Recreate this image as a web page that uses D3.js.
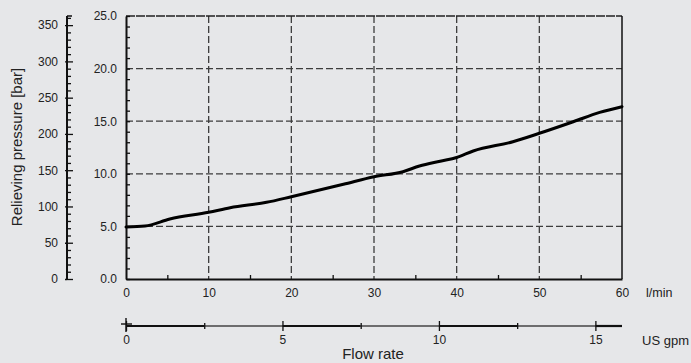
<!DOCTYPE html>
<html>
<head>
<meta charset="utf-8">
<script src="https://cdn.jsdelivr.net/npm/d3@7"></script>
<style>
  body { margin: 0; background: #e6e7e9; }
  svg { display: block; font-family: "Liberation Sans", Arial, sans-serif; }
  .lbl { fill: #222; }
</style>
</head>
<body>
<svg id="chart"></svg>
<script>
// flow rate (l/min) vs relieving pressure (inner axis units)
const flowLpm = [0, 2.3, 5.3, 10, 12.6, 17, 20, 26.3, 30, 33.5, 35.5, 38, 40, 42, 46.8, 50, 54.1, 57.3, 60];
const pressure = [4.95, 5.04, 5.70, 6.34, 6.78, 7.29, 7.82, 9.0, 9.72, 10.2, 10.74, 11.2, 11.55, 12.17, 13.05, 13.85, 14.95, 15.84, 16.38];

const innerTicks = [0, 5, 10, 15, 20, 25];
const barTicks = [0, 50, 100, 150, 200, 250, 300, 350];
const lpmTicks = [0, 10, 20, 30, 40, 50, 60];
const gpmTicks = [0, 5, 10, 15];

const width = 691;
const height = 363;
const plotL = 126, plotR = 622, plotT = 16, plotB = 279;

const svg = d3.select('#chart').attr('width', width).attr('height', height);
svg.append('rect').attr('width', width).attr('height', height).attr('fill', '#e6e7e9');

const x = d3.scaleLinear().domain([0, 60]).range([plotL, plotR]);
const y = d3.scaleLinear().domain([0, 25]).range([plotB, plotT]);
const yBar = d3.scaleLinear().domain([0, 25 * 14.5038]).range([plotB, plotT]);
const xGpm = d3.scaleLinear().domain([0, 60 / 3.78541]).range([plotL, plotR]);

// dashed grid
const grid = svg.append('g').attr('stroke', '#3c3c3c').attr('stroke-width', 1.3).attr('stroke-dasharray', '7,3');
grid.selectAll('.hg').data(innerTicks.filter(d => d > 0 && d < 25)).enter()
  .append('line').attr('x1', plotL).attr('x2', plotR)
  .attr('y1', d => y(d)).attr('y2', d => y(d));
grid.selectAll('.vg').data(lpmTicks.filter(d => d > 0 && d < 60)).enter()
  .append('line').attr('y1', plotT).attr('y2', plotB)
  .attr('x1', d => x(d)).attr('x2', d => x(d));

// frame
svg.append('line').attr('x1', plotL).attr('x2', plotR).attr('y1', y(25)).attr('y2', y(25))
  .attr('stroke', '#222').attr('stroke-width', 1.5).attr('stroke-dasharray', '9,1');
svg.append('line').attr('x1', x(60)).attr('x2', x(60)).attr('y1', plotT).attr('y2', plotB)
  .attr('stroke', '#111').attr('stroke-width', 1.5);

// inner left axis
const yAxis = d3.axisLeft(y).tickValues(innerTicks).tickFormat(d3.format('.1f')).tickSize(0).tickPadding(9);
const gy = svg.append('g').attr('transform', `translate(${plotL},0)`).call(yAxis);
gy.select('.domain').attr('stroke', '#111').attr('stroke-width', 2);
gy.selectAll('text').attr('class', 'lbl').style('font-size', '12px');
const yMinor = d3.axisRight(y).tickValues(d3.range(0, 26, 1)).tickSize(4).tickFormat('');
const gym = svg.append('g').attr('transform', `translate(${plotL},0)`).call(yMinor);
gym.select('.domain').remove();
gym.selectAll('line').attr('stroke', '#111').attr('stroke-width', 1.3);

// bar axis
const barAxis = d3.axisLeft(yBar).tickValues(barTicks).tickSize(2).tickPadding(7);
const gb = svg.append('g').attr('transform', 'translate(67,0)').call(barAxis);
gb.select('.domain').remove();
gb.selectAll('line').attr('stroke', '#111').attr('stroke-width', 1.3);
gb.selectAll('text').attr('class', 'lbl').style('font-size', '12px');
gb.append('line').attr('y1', plotT).attr('y2', plotB).attr('stroke', '#111').attr('stroke-width', 2);
const barMinor = d3.axisRight(yBar).tickValues(d3.range(0, 361, 10)).tickSize(4).tickFormat('');
const gbm = svg.append('g').attr('transform', 'translate(67,0)').call(barMinor);
gbm.select('.domain').remove();
gbm.selectAll('line').attr('stroke', '#111').attr('stroke-width', 1.3)
  .attr('x2', d => d % 50 === 0 ? 6 : 4);
gb.append('line').attr('x1', 0).attr('x2', 5).attr('y1', plotT).attr('y2', plotT).attr('stroke', '#111').attr('stroke-width', 1.5);

svg.append('text').attr('class', 'lbl')
  .attr('transform', 'translate(22,147) rotate(-90)')
  .attr('text-anchor', 'middle').style('font-size', '15px')
  .text('Relieving pressure [bar]');

// bottom l/min axis
const xAxis = d3.axisBottom(x).tickValues(lpmTicks).tickSize(0).tickPadding(9);
const gx = svg.append('g').attr('transform', `translate(0,${plotB})`).call(xAxis);
gx.select('.domain').attr('stroke', '#111').attr('stroke-width', 2);
gx.selectAll('text').attr('class', 'lbl').style('font-size', '12px');
const xMinor = d3.axisTop(x).tickValues(d3.range(5, 60, 10)).tickSize(4).tickFormat('');
const gxm = svg.append('g').attr('transform', `translate(0,${plotB})`).call(xMinor);
gxm.select('.domain').remove();
gxm.selectAll('line').attr('stroke', '#111').attr('stroke-width', 1.3);
svg.append('text').attr('class', 'lbl').attr('x', 646).attr('y', 297).style('font-size', '12.5px').text('l/min');

// US gpm axis
const gpmY = 326;
const gpmMax = 60 / 3.78541;
const segs = d3.range(0, gpmMax, 2.5).map(s => [s, Math.min(s + 2.5, gpmMax)]);
svg.append('g').selectAll('line').data(segs).enter().append('line')
  .attr('x1', d => xGpm(d[0])).attr('x2', d => xGpm(d[1]))
  .attr('y1', gpmY).attr('y2', gpmY)
  .attr('stroke', (d, i) => i % 2 === 0 ? '#111' : '#444')
  .attr('stroke-width', (d, i) => i % 2 === 0 ? 2.2 : 1.3);
const gpmAxis = d3.axisBottom(xGpm).tickValues(gpmTicks).tickSize(5).tickPadding(4);
const gg = svg.append('g').attr('transform', `translate(0,${gpmY})`).call(gpmAxis);
gg.select('.domain').remove();
gg.selectAll('line').attr('stroke', '#111').attr('stroke-width', 1.3).attr('y1', -5);
gg.selectAll('text').attr('class', 'lbl').style('font-size', '12px');
const gpmMinor = d3.axisBottom(xGpm).tickValues([2.5, 7.5, 12.5]).tickSize(3).tickFormat('');
const ggm = svg.append('g').attr('transform', `translate(0,${gpmY})`).call(gpmMinor);
ggm.select('.domain').remove();
ggm.selectAll('line').attr('stroke', '#111').attr('stroke-width', 1.3).attr('y1', -3);
svg.append('line').attr('x1', xGpm(0) - 5).attr('x2', xGpm(0) + 6).attr('y1', gpmY - 2).attr('y2', gpmY - 2)
  .attr('stroke', '#111').attr('stroke-width', 1.4);
svg.append('line').attr('x1', xGpm(0)).attr('x2', xGpm(0)).attr('y1', gpmY - 8).attr('y2', gpmY + 6)
  .attr('stroke', '#111').attr('stroke-width', 1.4);
svg.append('text').attr('class', 'lbl').attr('x', 642).attr('y', 345).style('font-size', '13px').text('US gpm');
svg.append('text').attr('class', 'lbl').attr('x', 373).attr('y', 359)
  .attr('text-anchor', 'middle').style('font-size', '15px').text('Flow rate');

// curve
const pts = flowLpm.map((f, i) => [f, pressure[i]]);
const line = d3.line().x(d => x(d[0])).y(d => y(d[1])).curve(d3.curveMonotoneX);
svg.append('path').datum(pts).attr('d', line)
  .attr('fill', 'none').attr('stroke', '#000').attr('stroke-width', 3)
  .attr('stroke-linejoin', 'round').attr('stroke-linecap', 'round');
</script>
</body>
</html>
